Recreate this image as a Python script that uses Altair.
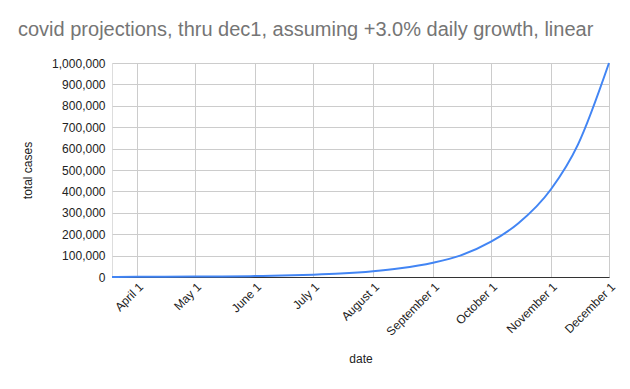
import altair as alt
import pandas as pd

# values (estimated)
dates = [
    "2020-03-19", "2020-04-01", "2020-04-15", "2020-05-01", "2020-05-15",
    "2020-06-01", "2020-06-15", "2020-07-01", "2020-07-15", "2020-08-01",
    "2020-08-15", "2020-09-01", "2020-09-15", "2020-10-01", "2020-10-15",
    "2020-11-01", "2020-11-15", "2020-12-01",
]
total_cases = [
    500, 740, 1100, 1800, 2700,
    4400, 6700, 10700, 16000, 27000,
    41000, 67000, 100000, 165000, 250000,
    410000, 620000, 1000000,
]
month_ticks = [4, 5, 6, 7, 8, 9, 10, 11, 12]
y_ticks = [0, 100000, 200000, 300000, 400000, 500000, 600000, 700000, 800000, 900000, 1000000]

df = pd.DataFrame({"date": dates, "total cases": total_cases})

FONT = "Liberation Sans"

chart = alt.Chart(df).mark_line(
    color="#4285f4", strokeWidth=2, interpolate="monotone"
).encode(
    x=alt.X(
        "date:T",
        title="date",
        scale=alt.Scale(
            type="utc",
            domain=[
                alt.DateTime(year=2020, month=3, date=19, utc=True),
                alt.DateTime(year=2020, month=12, date=1, utc=True),
            ],
        ),
        axis=alt.Axis(
            values=[alt.DateTime(year=2020, month=m, date=1, utc=True) for m in month_ticks],
            format="%B %-d",
            labelAngle=315,
            labelAlign="right",
            labelBaseline="top",
            labelPadding=4,
            ticks=False,
            domain=True,
            domainColor="#333333",
            domainWidth=1,
            grid=True,
            gridColor="#cccccc",
            labelColor="#222222",
            labelFontSize=12,
            labelFont=FONT,
            titleFont=FONT,
            titleFontSize=12,
            titleFontWeight="normal",
            titleColor="#222222",
            titleY=85,
            titleBaseline="alphabetic",
        ),
    ),
    y=alt.Y(
        "total cases:Q",
        title="total cases",
        scale=alt.Scale(domain=[0, 1000000], nice=False),
        axis=alt.Axis(
            values=y_ticks,
            format=",d",
            ticks=False,
            domain=False,
            grid=True,
            gridColor="#cccccc",
            labelPadding=7,
            labelColor="#222222",
            labelFontSize=12,
            labelFont=FONT,
            titleFont=FONT,
            titleFontSize=12,
            titleFontWeight="normal",
            titleColor="#222222",
            titleX=-78,
            titleY=107,
            titleAngle=270,
            titleAlign="center",
            titleBaseline="bottom",
        ),
    ),
).properties(
    width=497,
    height=214,
    title=alt.TitleParams(
        "covid projections, thru dec1, assuming +3.0% daily growth, linear",
        anchor="start",
        frame="group",
        font=FONT,
        fontSize=20,
        fontWeight="normal",
        color="#757575",
        dx=-94,
        dy=15,
        offset=16,
        baseline="alphabetic",
    ),
    autosize=alt.AutoSizeParams(type="none"),
    padding={"left": 104, "top": 55, "right": 13, "bottom": 104},
).configure_view(stroke=None).configure(background="white")

chart.save("out.html", embed_options={"renderer": "svg", "actions": False})
